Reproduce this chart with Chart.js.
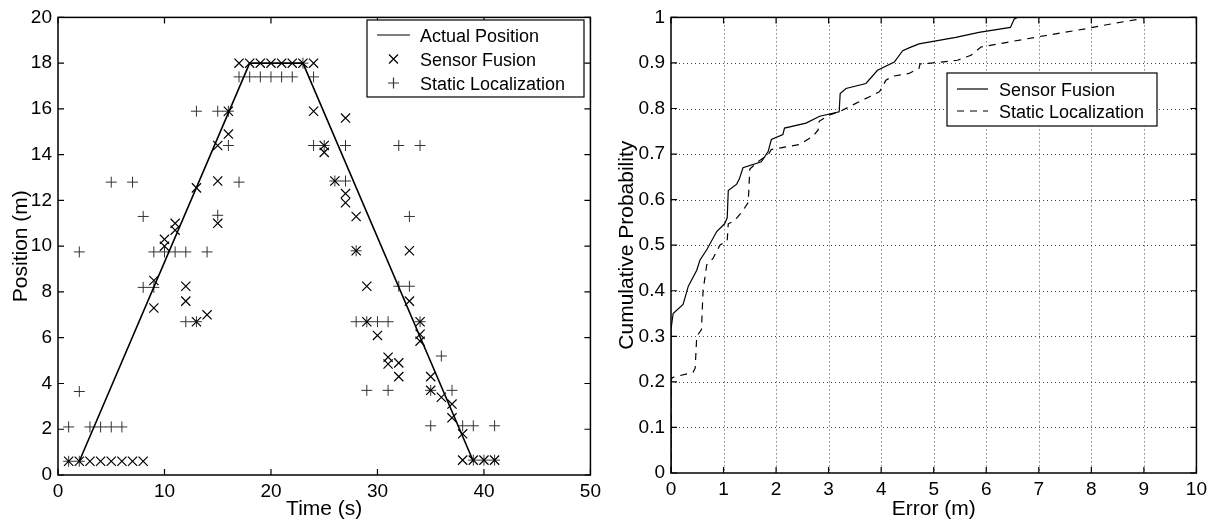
<!DOCTYPE html>
<html>
<head>
<meta charset="utf-8">
<script src="https://cdn.jsdelivr.net/npm/chart.js@4.4.1/dist/chart.umd.min.js"></script>
<style>
  body { margin: 0; background: #fff; }
  #positionChart { position: absolute; left: 0; top: 0; }
  #errorChart { position: absolute; left: 606px; top: 0; }
</style>
</head>
<body>
<canvas id="positionChart" width="606" height="525"></canvas>
<canvas id="errorChart" width="606" height="525"></canvas>
<script>
// Left plot: position over time
const actualTime = [2, 18, 23, 39];
const actualPos = [0.6, 18, 18, 0.6];

const fusionTime = [1, 2, 3, 4, 5, 6, 7, 8, 9, 9, 10, 10, 11, 11, 12, 12, 13, 13, 14,
  15, 15, 15, 16, 16, 17, 18, 19, 20, 21, 22, 23, 24, 24, 25, 25, 26, 27, 27, 27,
  28, 28, 29, 29, 30, 31, 31, 32, 32, 33, 33, 34, 34, 34, 35, 35, 36, 37, 37, 38,
  38, 39, 40, 41];
const fusionPos = [0.6, 0.6, 0.6, 0.6, 0.6, 0.6, 0.6, 0.6, 8.5, 7.3, 10.3, 10.0, 11.0, 10.7, 8.25, 7.6, 12.55, 6.7, 7.0,
  14.4, 12.85, 11.0, 15.9, 14.9, 18, 18, 18, 18, 18, 18, 18, 18, 15.9, 14.4, 14.1, 12.85, 15.6, 12.3, 11.9,
  11.3, 9.8, 8.25, 6.7, 6.1, 5.15, 4.85, 4.9, 4.3, 9.8, 7.6, 6.7, 6.15, 5.85, 4.3, 3.7, 3.4, 3.1, 2.5, 1.8,
  0.65, 0.65, 0.65, 0.65];

const staticTime = [1, 1, 2, 2, 2, 3, 4, 5, 5, 6, 7, 8, 8, 9, 9, 10, 11, 12, 12, 13, 13, 14,
  15, 15, 16, 16, 17, 17, 18, 19, 20, 21, 22, 23, 24, 24, 25, 26, 27, 27, 28, 28, 29, 29,
  30, 31, 31, 32, 32, 33, 33, 34, 34, 35, 35, 36, 37, 38, 39, 39, 40, 41, 41];
const staticPos = [0.6, 2.1, 0.6, 3.65, 9.75, 2.1, 2.1, 2.1, 12.8, 2.1, 12.8, 8.2, 11.3, 8.2, 9.75, 9.75, 9.75, 9.75, 6.7, 6.7, 15.9, 9.75,
  15.9, 11.35, 15.9, 14.4, 12.8, 17.4, 17.4, 17.4, 17.4, 17.4, 17.4, 18, 17.4, 14.4, 14.4, 12.85, 14.4, 12.85, 6.7, 9.8, 6.7, 3.7,
  6.7, 6.7, 3.7, 14.4, 8.25, 11.3, 8.25, 14.4, 6.7, 3.7, 2.15, 5.2, 3.7, 2.15, 2.15, 0.65, 0.65, 0.65, 2.15];

const timeTicks = [0, 10, 20, 30, 40, 50];
const posTicks = [0, 2, 4, 6, 8, 10, 12, 14, 16, 18, 20];

// Right plot: error CDF
const fusionErr = [0, 0, 0.04, 0.23, 0.33, 0.49, 0.55, 0.68, 0.87, 1.02, 1.07, 1.09, 1.25, 1.3, 1.37, 1.72,
  1.85, 1.91, 2.13, 2.16, 2.57, 2.83, 3.2, 3.22, 3.33, 3.71, 3.93, 4.25, 4.41, 4.53, 4.72, 5.42,
  5.86, 6.46, 6.53, 6.59];
const fusionProb = [0, 0.315, 0.35, 0.37, 0.41, 0.445, 0.467, 0.49, 0.53, 0.547, 0.56, 0.62, 0.634, 0.645, 0.67, 0.683,
  0.706, 0.732, 0.743, 0.757, 0.768, 0.783, 0.793, 0.833, 0.844, 0.855, 0.884, 0.902, 0.927, 0.933, 0.942, 0.956,
  0.967, 0.978, 0.996, 1.0];

const staticErr = [0, 0, 0.04, 0.42, 0.46, 0.49, 0.58, 0.61, 0.68, 0.8, 0.83, 0.93, 1.07, 1.09, 1.21, 1.37,
  1.47, 1.5, 1.63, 1.85, 1.91, 2.45, 2.7, 2.8, 2.82, 3.02, 3.21, 3.46, 3.78, 3.97, 4.09, 4.22,
  4.53, 4.72, 4.74, 4.98, 5.45, 5.71, 5.9, 6.43, 6.97, 7.89, 8.39, 8.9, 9.0];
const staticProb = [0, 0.206, 0.21, 0.221, 0.23, 0.3, 0.315, 0.4, 0.457, 0.471, 0.478, 0.5, 0.51, 0.547, 0.554, 0.576,
  0.594, 0.667, 0.681, 0.699, 0.71, 0.721, 0.739, 0.753, 0.772, 0.786, 0.793, 0.808, 0.826, 0.837, 0.862, 0.871,
  0.877, 0.888, 0.898, 0.9, 0.906, 0.917, 0.935, 0.946, 0.957, 0.975, 0.986, 0.996, 1.0];

const errTicks = [0, 1, 2, 3, 4, 5, 6, 7, 8, 9, 10];
const probTicks = [0, 0.1, 0.2, 0.3, 0.4, 0.5, 0.6, 0.7, 0.8, 0.9, 1];

const FONT = "'Liberation Sans', Arial, sans-serif";

function toPoints(xs, ys) {
  return xs.map((x, i) => ({ x: x, y: ys[i] }));
}

// MATLAB style box, inward ticks and dotted grid
const matlabAxes = {
  id: "matlabAxes",
  beforeDatasetsDraw(chart, args, opts) {
    if (!opts.grid) return;
    const { ctx, chartArea: a, scales } = chart;
    ctx.save();
    ctx.strokeStyle = "#444";
    ctx.lineWidth = 1;
    ctx.setLineDash([1, 3]);
    scales.x.ticks.forEach((t) => {
      const px = Math.round(scales.x.getPixelForValue(t.value)) + 0.5;
      if (px <= a.left + 2 || px >= a.right - 2) return;
      ctx.beginPath();
      ctx.moveTo(px, a.top);
      ctx.lineTo(px, a.bottom);
      ctx.stroke();
    });
    scales.y.ticks.forEach((t) => {
      const py = Math.round(scales.y.getPixelForValue(t.value)) + 0.5;
      if (py <= a.top + 2 || py >= a.bottom - 2) return;
      ctx.beginPath();
      ctx.moveTo(a.left, py);
      ctx.lineTo(a.right, py);
      ctx.stroke();
    });
    ctx.restore();
  },
  afterDraw(chart) {
    const { ctx, chartArea: a, scales } = chart;
    const len = 6;
    ctx.save();
    ctx.strokeStyle = "#000";
    ctx.lineWidth = 1.5;
    ctx.strokeRect(a.left, a.top, a.right - a.left, a.bottom - a.top);
    ctx.lineWidth = 1.2;
    ctx.beginPath();
    scales.x.ticks.forEach((t) => {
      const px = scales.x.getPixelForValue(t.value);
      ctx.moveTo(px, a.bottom);
      ctx.lineTo(px, a.bottom - len);
      ctx.moveTo(px, a.top);
      ctx.lineTo(px, a.top + len);
    });
    scales.y.ticks.forEach((t) => {
      const py = scales.y.getPixelForValue(t.value);
      ctx.moveTo(a.left, py);
      ctx.lineTo(a.left + len, py);
      ctx.moveTo(a.right, py);
      ctx.lineTo(a.right - len, py);
    });
    ctx.stroke();
    ctx.restore();
  },
};

// legend box drawn inside the plot
const boxLegend = {
  id: "boxLegend",
  afterDraw(chart, args, opts) {
    const ctx = chart.ctx;
    ctx.save();
    ctx.fillStyle = "#fff";
    ctx.fillRect(opts.x, opts.y, opts.w, opts.h);
    ctx.strokeStyle = "#000";
    ctx.lineWidth = 1.2;
    ctx.strokeRect(opts.x, opts.y, opts.w, opts.h);
    ctx.font = "18px " + FONT;
    ctx.textBaseline = "alphabetic";
    chart.data.datasets.forEach((ds, i) => {
      const cy = opts.rowY[i];
      ctx.strokeStyle = ds.borderColor;
      ctx.lineWidth = 1.2;
      ctx.beginPath();
      if (ds.legendMark === "line" || ds.legendMark === "dash") {
        ctx.setLineDash(ds.legendMark === "dash" ? [7, 6] : []);
        ctx.moveTo(opts.lineX0, cy);
        ctx.lineTo(opts.lineX1, cy);
      } else {
        const mx = (opts.lineX0 + opts.lineX1) / 2;
        const r = 4.5;
        if (ds.legendMark === "x") {
          ctx.moveTo(mx - r, cy - r);
          ctx.lineTo(mx + r, cy + r);
          ctx.moveTo(mx - r, cy + r);
          ctx.lineTo(mx + r, cy - r);
        } else {
          ctx.moveTo(mx - r - 1, cy);
          ctx.lineTo(mx + r + 1, cy);
          ctx.moveTo(mx, cy - r - 1);
          ctx.lineTo(mx, cy + r + 1);
        }
      }
      ctx.stroke();
      ctx.setLineDash([]);
      ctx.fillStyle = "#000";
      ctx.fillText(ds.label, opts.textX, cy + 6.5);
    });
    ctx.restore();
  },
};

function axisOptions(min, max, ticks, title, isX, size) {
  return {
    type: "linear",
    min: min,
    max: max,
    grid: { display: false, drawTicks: false },
    border: { display: false },
    afterBuildTicks: (scale) => {
      scale.ticks = ticks.map((v) => ({ value: v }));
    },
    afterFit: (scale) => {
      if (isX) scale.height = size;
      else scale.width = size;
    },
    ticks: {
      color: "#000",
      font: { family: FONT, size: 19 },
      padding: isX ? 5 : 6,
      autoSkip: false,
      maxRotation: 0,
      callback: (value) => String(value),
    },
    title: {
      display: true,
      text: title,
      color: "#000",
      font: { family: FONT, size: 21 },
      padding: isX ? { top: 0, bottom: 3 } : { top: 9, bottom: 0 },
    },
  };
}

document.addEventListener("DOMContentLoaded", function () {
  // Position vs time
  new Chart(document.getElementById("positionChart").getContext("2d"), {
    type: "scatter",
    data: {
      datasets: [
        {
          label: "Actual Position",
          data: toPoints(actualTime, actualPos),
          showLine: true,
          borderColor: "#000",
          borderWidth: 1.6,
          pointRadius: 0,
          legendMark: "line",
        },
        {
          label: "Sensor Fusion",
          data: toPoints(fusionTime, fusionPos),
          pointStyle: "crossRot",
          pointRadius: 6.5,
          pointBorderWidth: 1.2,
          borderColor: "#000",
          backgroundColor: "#000",
          legendMark: "x",
        },
        {
          label: "Static Localization",
          data: toPoints(staticTime, staticPos),
          pointStyle: "cross",
          pointRadius: 5.5,
          pointBorderWidth: 1,
          borderColor: "#333",
          backgroundColor: "#333",
          legendMark: "plus",
        },
      ],
    },
    options: {
      responsive: false,
      animation: false,
      layout: { padding: { top: 15, right: 15, left: 0, bottom: 0 } },
      scales: {
        x: axisOptions(0, 50, timeTicks, "Time (s)", true, 50),
        y: axisOptions(0, 20, posTicks, "Position (m)", false, 58),
      },
      plugins: {
        legend: { display: false },
        tooltip: { enabled: false },
        matlabAxes: { grid: false },
        boxLegend: {
          x: 367, y: 20, w: 217, h: 77,
          rowY: [35, 59, 83],
          lineX0: 377, lineX1: 410, textX: 420,
        },
      },
    },
    plugins: [matlabAxes, boxLegend],
  });

  // Error CDF
  new Chart(document.getElementById("errorChart").getContext("2d"), {
    type: "scatter",
    data: {
      datasets: [
        {
          label: "Sensor Fusion",
          data: toPoints(fusionErr, fusionProb),
          showLine: true,
          borderColor: "#000",
          borderWidth: 1.2,
          pointRadius: 0,
          legendMark: "line",
        },
        {
          label: "Static Localization",
          data: toPoints(staticErr, staticProb),
          showLine: true,
          borderColor: "#000",
          borderWidth: 1.2,
          borderDash: [7, 6],
          pointRadius: 0,
          legendMark: "dash",
        },
      ],
    },
    options: {
      responsive: false,
      animation: false,
      layout: { padding: { top: 13, right: 14, left: 0, bottom: 0 } },
      scales: {
        x: axisOptions(0, 10, errTicks, "Error (m)", true, 52),
        y: axisOptions(0, 1, probTicks, "Cumulative Probability", false, 65),
      },
      plugins: {
        legend: { display: false },
        tooltip: { enabled: false },
        matlabAxes: { grid: true },
        boxLegend: {
          x: 341, y: 73, w: 210, h: 53,
          rowY: [89, 111],
          lineX0: 351, lineX1: 382, textX: 393,
        },
      },
    },
    plugins: [matlabAxes, boxLegend],
  });
});
</script>
</body>
</html>
